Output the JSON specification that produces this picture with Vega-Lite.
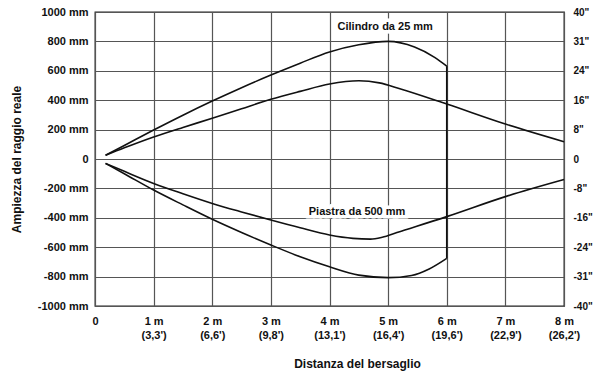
{
  "$schema": "https://vega.github.io/schema/vega-lite/v6.json",
  "width": 469,
  "height": 294,
  "autosize": "none",
  "padding": {"left": 95, "top": 12, "right": 30, "bottom": 66},
  "background": "white",
  "config": {
    "font": "Liberation Sans",
    "view": {"stroke": "#222222", "strokeWidth": 1.3},
    "axis": {
      "labelFont": "Liberation Sans",
      "labelFontWeight": "bold",
      "labelFontSize": 11,
      "labelColor": "#111111",
      "titleFont": "Liberation Sans",
      "titleFontWeight": "bold",
      "titleFontSize": 12,
      "titleColor": "#111111",
      "ticks": false,
      "domain": false,
      "gridColor": "#555555",
      "gridWidth": 1.2,
      "gridOpacity": 1,
      "labelFlush": false,
      "labelOverlap": false
    }
  },
  "datasets": {
    "curves": [
      {"s": "cil_sup", "x": 0.18, "y": 25}, {"s": "cil_sup", "x": 0.5, "y": 92}, {"s": "cil_sup", "x": 1, "y": 197}, {"s": "cil_sup", "x": 1.5, "y": 298}, {"s": "cil_sup", "x": 2, "y": 394}, {"s": "cil_sup", "x": 2.5, "y": 485}, {"s": "cil_sup", "x": 3, "y": 571}, {"s": "cil_sup", "x": 3.5, "y": 652}, {"s": "cil_sup", "x": 4, "y": 728}, {"s": "cil_sup", "x": 4.5, "y": 777}, {"s": "cil_sup", "x": 5, "y": 800}, {"s": "cil_sup", "x": 5.45, "y": 762}, {"s": "cil_sup", "x": 5.8, "y": 690}, {"s": "cil_sup", "x": 6, "y": 632},
      {"s": "cil_inf", "x": 0.18, "y": -30}, {"s": "cil_inf", "x": 0.5, "y": -100}, {"s": "cil_inf", "x": 1, "y": -211}, {"s": "cil_inf", "x": 1.5, "y": -312}, {"s": "cil_inf", "x": 2, "y": -410}, {"s": "cil_inf", "x": 2.5, "y": -500}, {"s": "cil_inf", "x": 3, "y": -585}, {"s": "cil_inf", "x": 3.5, "y": -665}, {"s": "cil_inf", "x": 4, "y": -733}, {"s": "cil_inf", "x": 4.5, "y": -790}, {"s": "cil_inf", "x": 5, "y": -807}, {"s": "cil_inf", "x": 5.4, "y": -792}, {"s": "cil_inf", "x": 5.7, "y": -748}, {"s": "cil_inf", "x": 6, "y": -676},
      {"s": "pia_sup", "x": 0.18, "y": 25}, {"s": "pia_sup", "x": 0.5, "y": 76}, {"s": "pia_sup", "x": 1, "y": 150}, {"s": "pia_sup", "x": 1.5, "y": 215}, {"s": "pia_sup", "x": 2, "y": 277}, {"s": "pia_sup", "x": 2.5, "y": 342}, {"s": "pia_sup", "x": 3, "y": 406}, {"s": "pia_sup", "x": 3.5, "y": 460}, {"s": "pia_sup", "x": 4, "y": 510}, {"s": "pia_sup", "x": 4.5, "y": 532}, {"s": "pia_sup", "x": 4.85, "y": 518}, {"s": "pia_sup", "x": 5.2, "y": 478}, {"s": "pia_sup", "x": 6, "y": 374}, {"s": "pia_sup", "x": 7, "y": 238}, {"s": "pia_sup", "x": 8, "y": 118},
      {"s": "pia_inf", "x": 0.18, "y": -30}, {"s": "pia_inf", "x": 0.5, "y": -84}, {"s": "pia_inf", "x": 1, "y": -166}, {"s": "pia_inf", "x": 1.5, "y": -236}, {"s": "pia_inf", "x": 2, "y": -302}, {"s": "pia_inf", "x": 2.5, "y": -360}, {"s": "pia_inf", "x": 3, "y": -415}, {"s": "pia_inf", "x": 3.5, "y": -468}, {"s": "pia_inf", "x": 4, "y": -517}, {"s": "pia_inf", "x": 4.4, "y": -540}, {"s": "pia_inf", "x": 4.7, "y": -545}, {"s": "pia_inf", "x": 4.9, "y": -532}, {"s": "pia_inf", "x": 5.15, "y": -500}, {"s": "pia_inf", "x": 6, "y": -392}, {"s": "pia_inf", "x": 7, "y": -256}, {"s": "pia_inf", "x": 8, "y": -140}
    ],
    "vline": [{"x": 6, "y": 632, "y2": -676}],
    "labels": [
      {"x": 4.95, "y": 900, "t": "Cilindro da 25 mm"},
      {"x": 4.47, "y": -358, "t": "Piastra da 500 mm"}
    ]
  },
  "layer": [
    {
      "data": {"name": "curves"},
      "mark": {"type": "line", "interpolate": "monotone", "color": "#111111", "strokeWidth": 1.6},
      "encoding": {
        "x": {
          "field": "x", "type": "quantitative",
          "scale": {"domain": [0, 8], "nice": false, "zero": false},
          "axis": {
            "values": [0, 1, 2, 3, 4, 5, 6, 7, 8],
            "grid": true,
            "labelPadding": 9,
            "labelLineHeight": 14,
            "labelExpr": "datum.value == 0 ? '0' : [datum.value + ' m', '(' + ['', '3,3', '6,6', '9,8', '13,1', '16,4', '19,6', '22,9', '26,2'][datum.value] + \"')\"]",
            "title": "Distanza del bersaglio",
            "titleX": 262,
            "titleY": 61,
            "titleBaseline": "alphabetic"
          }
        },
        "y": {
          "field": "y", "type": "quantitative",
          "scale": {"domain": [-1000, 1000], "nice": false, "zero": false},
          "axis": {
            "orient": "left",
            "values": [-1000, -800, -600, -400, -200, 0, 200, 400, 600, 800, 1000],
            "grid": true,
            "labelPadding": 7,
            "labelExpr": "datum.value == 0 ? '0' : datum.value + ' mm'",
            "title": "Ampiezza del raggio reale",
            "titlePadding": 14
          }
        },
        "detail": {"field": "s"}
      }
    },
    {
      "data": {"name": "vline"},
      "mark": {"type": "rule", "color": "#111111", "strokeWidth": 1.6},
      "encoding": {
        "x": {"field": "x", "type": "quantitative"},
        "y": {"field": "y", "type": "quantitative", "axis": null},
        "y2": {"field": "y2"}
      }
    },
    {
      "data": {"name": "labels"},
      "mark": {"type": "text", "font": "Liberation Sans", "fontWeight": "bold", "fontSize": 11, "stroke": "white", "strokeWidth": 7, "fill": "white", "align": "center", "baseline": "middle"},
      "encoding": {
        "x": {"field": "x", "type": "quantitative"},
        "y": {
          "field": "y", "type": "quantitative",
          "axis": {
            "orient": "right",
            "values": [-1000, -800, -600, -400, -200, 0, 200, 400, 600, 800, 1000],
            "grid": false,
            "labelPadding": 9,
            "labelFontSize": 10,
            "labelAlign": "left",
            "title": null,
            "labelExpr": "(datum.value < 0 ? '-' : '') + (abs(datum.value) == 1000 ? '40' : abs(datum.value) == 800 ? '31' : abs(datum.value) == 600 ? '24' : abs(datum.value) == 400 ? '16' : abs(datum.value) == 200 ? '8' : '0') + (datum.value == 0 ? '' : '\"')"
          }
        },
        "text": {"field": "t"}
      }
    },
    {
      "data": {"name": "labels"},
      "mark": {"type": "text", "font": "Liberation Sans", "fontWeight": "bold", "fontSize": 11, "fill": "#111111", "align": "center", "baseline": "middle"},
      "encoding": {
        "x": {"field": "x", "type": "quantitative"},
        "y": {"field": "y", "type": "quantitative", "axis": null},
        "text": {"field": "t"}
      }
    }
  ],
  "resolve": {"axis": {"y": "independent"}}
}
